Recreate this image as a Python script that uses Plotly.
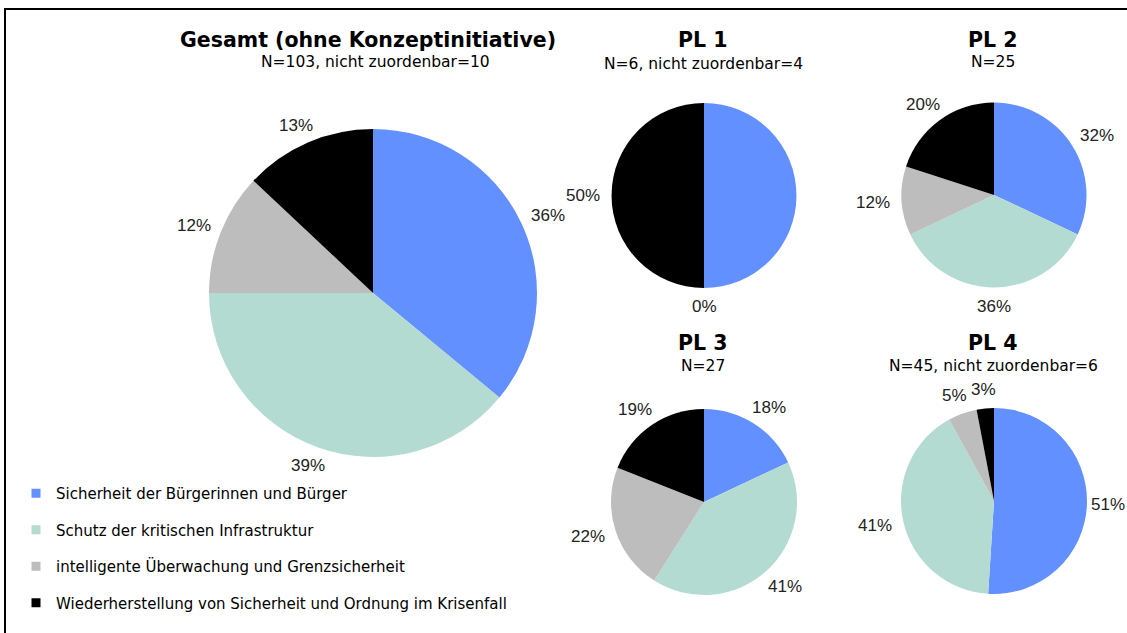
import math
import plotly.graph_objects as go

W, H = 1127, 633

categories = [
    "Sicherheit der Bürgerinnen und Bürger",
    "Schutz der kritischen Infrastruktur",
    "intelligente Überwachung und Grenzsicherheit",
    "Wiederherstellung von Sicherheit und Ordnung im Krisenfall",
]
colors = ["#6390FF", "#B3DBD1", "#BDBDBD", "#000000"]

gesamt = [36, 39, 12, 13]
pl1 = [50, 0, 0, 50]
pl2 = [32, 36, 12, 20]
pl3 = [18, 41, 22, 19]
pl4 = [51, 41, 5, 3]

# which slice labels are shown in each pie
gesamt_show = [True, True, True, True]
pl1_show = [False, True, False, True]
pl2_show = [True, True, True, True]
pl3_show = [True, True, True, True]
pl4_show = [True, True, True, True]

titles = ["Gesamt (ohne Konzeptinitiative)", "PL 1", "PL 2", "PL 3", "PL 4"]
subtitles = ["N=103, nicht zuordenbar=10", "N=6, nicht zuordenbar=4", "N=25",
             "N=27", "N=45, nicht zuordenbar=6"]

# layout: (center x, center y, radius) in pixels
geom = [(373, 293, 164), (704, 195.5, 92.5), (994, 195, 92.5),
        (704, 502, 93), (994, 501, 93)]
title_pos = [(368, 40, 375, 62), (703, 40, 703, 64), (993, 40, 993, 62),
             (703, 343, 703, 366), (993, 343, 993, 366)]

LBL_FONT = "Liberation Sans, Arial, sans-serif"
TXT_FONT = "DejaVu Sans, sans-serif"
TITLE_FONT = "DejaVu Sans, sans-serif"

fig = go.Figure()
annotations = []

series = [gesamt, pl1, pl2, pl3, pl4]
shows = [gesamt_show, pl1_show, pl2_show, pl3_show, pl4_show]
for vals, show, (cx, cy, r) in zip(series, shows, geom):
    fig.add_trace(go.Pie(
        labels=categories, values=vals, textinfo="none",
        marker=dict(colors=colors, line=dict(width=0)),
        sort=False, direction="clockwise", rotation=0,
        showlegend=False, hoverinfo="label+percent",
        domain=dict(x=[(cx - r) / W, (cx + r) / W],
                    y=[1 - (cy + r) / H, 1 - (cy - r) / H]),
    ))
    # value labels outside each slice, placed at the slice mid-angle
    total = sum(vals)
    cum = 0
    for v, s in zip(vals, show):
        mid = (cum + v / 2) / total * 2 * math.pi
        cum += v
        if not s:
            continue
        txt = f"{v}%"
        hw = 5.5 * len(txt) + 0.5
        hh = 7
        gap = 12
        ax = cx + (r + gap + hw) * math.sin(mid)
        ay = cy - (r + gap + hh) * math.cos(mid)
        ax = min(ax, W - hw - 2)  # keep the label inside the page
        annotations.append(dict(
            text=txt, x=ax / W, y=1 - ay / H, xref="paper", yref="paper",
            showarrow=False, xanchor="center", yanchor="middle",
            font=dict(family=LBL_FONT, size=17, color="#222")))

# legend entries
for i, (cat, col) in enumerate(zip(categories, colors)):
    fig.add_trace(go.Scatter(
        x=[None], y=[None], mode="markers", name=cat,
        marker=dict(symbol="square", size=9, color=col),
        legendgroup=f"g{i}", showlegend=True, hoverinfo="skip",
    ))

for t, s, (tx, ty, sx, sy) in zip(titles, subtitles, title_pos):
    annotations.append(dict(text=f"<b>{t}</b>", x=tx / W, y=1 - ty / H,
                            xref="paper", yref="paper", showarrow=False,
                            xanchor="center", yanchor="middle",
                            font=dict(family=TITLE_FONT, size=20.5, color="#000")))
    annotations.append(dict(text=s, x=sx / W, y=1 - sy / H,
                            xref="paper", yref="paper", showarrow=False,
                            xanchor="center", yanchor="middle",
                            font=dict(family=TXT_FONT, size=15.5, color="#000")))

fig.update_layout(
    width=W, height=H, margin=dict(l=0, r=0, t=0, b=0),
    paper_bgcolor="white", plot_bgcolor="white",
    xaxis=dict(visible=False), yaxis=dict(visible=False),
    annotations=annotations,
    legend=dict(x=16 / W, y=1 - 477 / H, xanchor="left", yanchor="top",
                font=dict(family=TXT_FONT, size=15, color="#000"),
                tracegroupgap=14, itemwidth=30, bgcolor="rgba(0,0,0,0)"),
    shapes=[dict(type="rect", xref="paper", yref="paper",
                 x0=5 / W, x1=1.02, y0=-0.02, y1=1 - 9 / H,
                 line=dict(color="#000", width=2))],
)

fig.write_html("out.html", config={"displayModeBar": False},
               post_script="document.body.style.margin='0px';")
